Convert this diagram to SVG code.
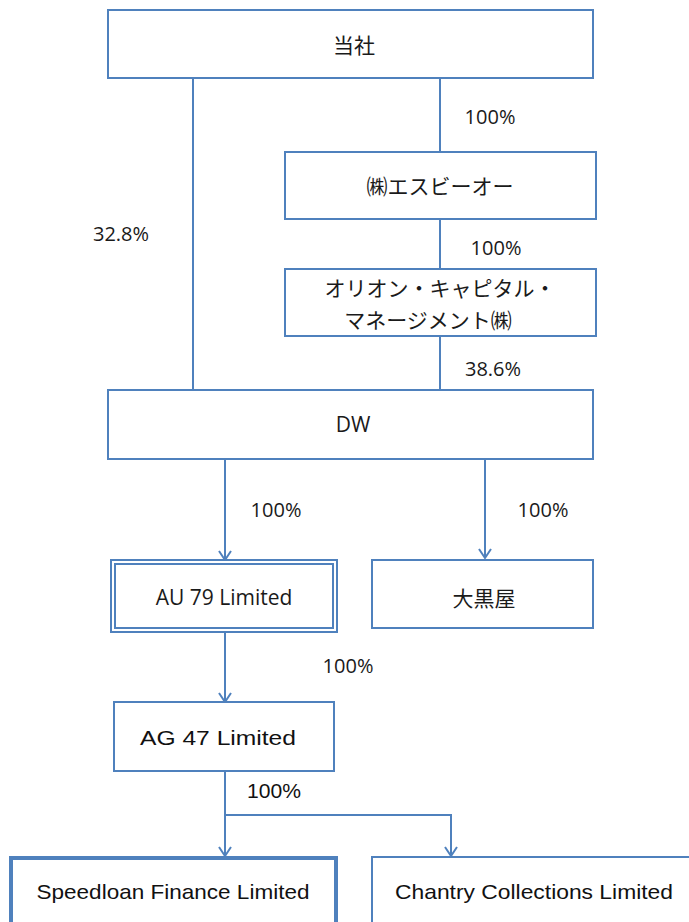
<svg xmlns="http://www.w3.org/2000/svg" width="689" height="922" viewBox="0 0 689 922">
<style>
.box{fill:#fff;stroke:#4F81BD;stroke-width:2}
.ln{fill:none;stroke:#4F81BD;stroke-width:2}
.t{font-family:"Open Sans","Noto Sans CJK JP",sans-serif;font-size:21px;fill:#1a1a1a;text-anchor:middle}
.j{font-family:"Noto Sans CJK JP",sans-serif;font-size:21px;fill:#1a1a1a;text-anchor:middle}
.p{font-family:"Open Sans",sans-serif;font-size:20px;fill:#1a1a1a;text-anchor:middle}
.c{font-family:"Liberation Sans","Noto Sans",sans-serif;font-size:21px;fill:#111;text-anchor:middle}
</style>
<defs>
<marker id="arr" markerWidth="12" markerHeight="14" refX="10" refY="7" orient="auto" markerUnits="userSpaceOnUse" viewBox="0 0 12 14">
<polyline points="1,1 10,7 1,13" fill="none" stroke="#4F81BD" stroke-width="2"/>
</marker>
</defs>
<g id="connectors">
<line class="ln" x1="193" y1="78" x2="193" y2="390"/>
<line class="ln" x1="440" y1="78" x2="440" y2="152"/>
<line class="ln" x1="440" y1="219" x2="440" y2="269"/>
<line class="ln" x1="440" y1="336" x2="440" y2="390"/>
<line class="ln" x1="225" y1="459" x2="225" y2="560" marker-end="url(#arr)"/>
<line class="ln" x1="485" y1="457" x2="485" y2="558" marker-end="url(#arr)"/>
<line class="ln" x1="225" y1="632" x2="225" y2="702" marker-end="url(#arr)"/>
<line class="ln" x1="225" y1="769" x2="225" y2="856" marker-end="url(#arr)"/>
<polyline class="ln" points="225,815 451,815 451,856" marker-end="url(#arr)"/>
<text class="p" x="490" y="124">100%</text>
<text class="p" x="496" y="255">100%</text>
<text class="p" x="493" y="376">38.6%</text>
<text class="p" x="121" y="241">32.8%</text>
<text class="p" x="276" y="517">100%</text>
<text class="p" x="543" y="517">100%</text>
<text class="p" x="348" y="673">100%</text>
<text class="c" x="274" y="798" textLength="54" lengthAdjust="spacingAndGlyphs">100%</text>
</g>
<g id="n-tousha"><rect class="box" x="108" y="10" width="485" height="68"/><text class="j" x="354" y="53">当社</text></g>
<g id="n-sbo"><rect class="box" x="285" y="152" width="311" height="67"/><text class="j" x="440" y="194">㈱エスビーオー</text></g>
<g id="n-orion"><rect class="box" x="285" y="269" width="311" height="67"/><text class="j" x="440" y="296">オリオン・キャピタル・</text><text class="j" x="428" y="328">マネージメント㈱</text></g>
<g id="n-dw"><rect class="box" x="108" y="390" width="485" height="69"/><text class="t" x="353" y="432">DW</text></g>
<g id="n-au79"><rect class="box" x="111" y="560" width="226" height="72"/><rect class="box" x="115" y="564" width="218" height="64"/><text class="t" x="224" y="605">AU 79 Limited</text></g>
<g id="n-daikokuya"><rect class="box" x="372" y="560" width="221" height="68"/><text class="j" x="484" y="606">大黒屋</text></g>
<g id="n-ag47"><rect class="box" x="114" y="702" width="220" height="69"/><text class="c" x="218" y="745" textLength="156" lengthAdjust="spacingAndGlyphs">AG 47 Limited</text></g>
<g id="n-speedloan"><rect x="11" y="858" width="325" height="80" fill="#fff" stroke="#4F81BD" stroke-width="4"/><text class="c" x="173" y="899" textLength="273" lengthAdjust="spacingAndGlyphs">Speedloan Finance Limited</text></g>
<g id="n-chantry"><rect class="box" x="372" y="857" width="330" height="80"/><text class="c" x="534" y="899" textLength="278" lengthAdjust="spacingAndGlyphs">Chantry Collections Limited</text></g>
</svg>
